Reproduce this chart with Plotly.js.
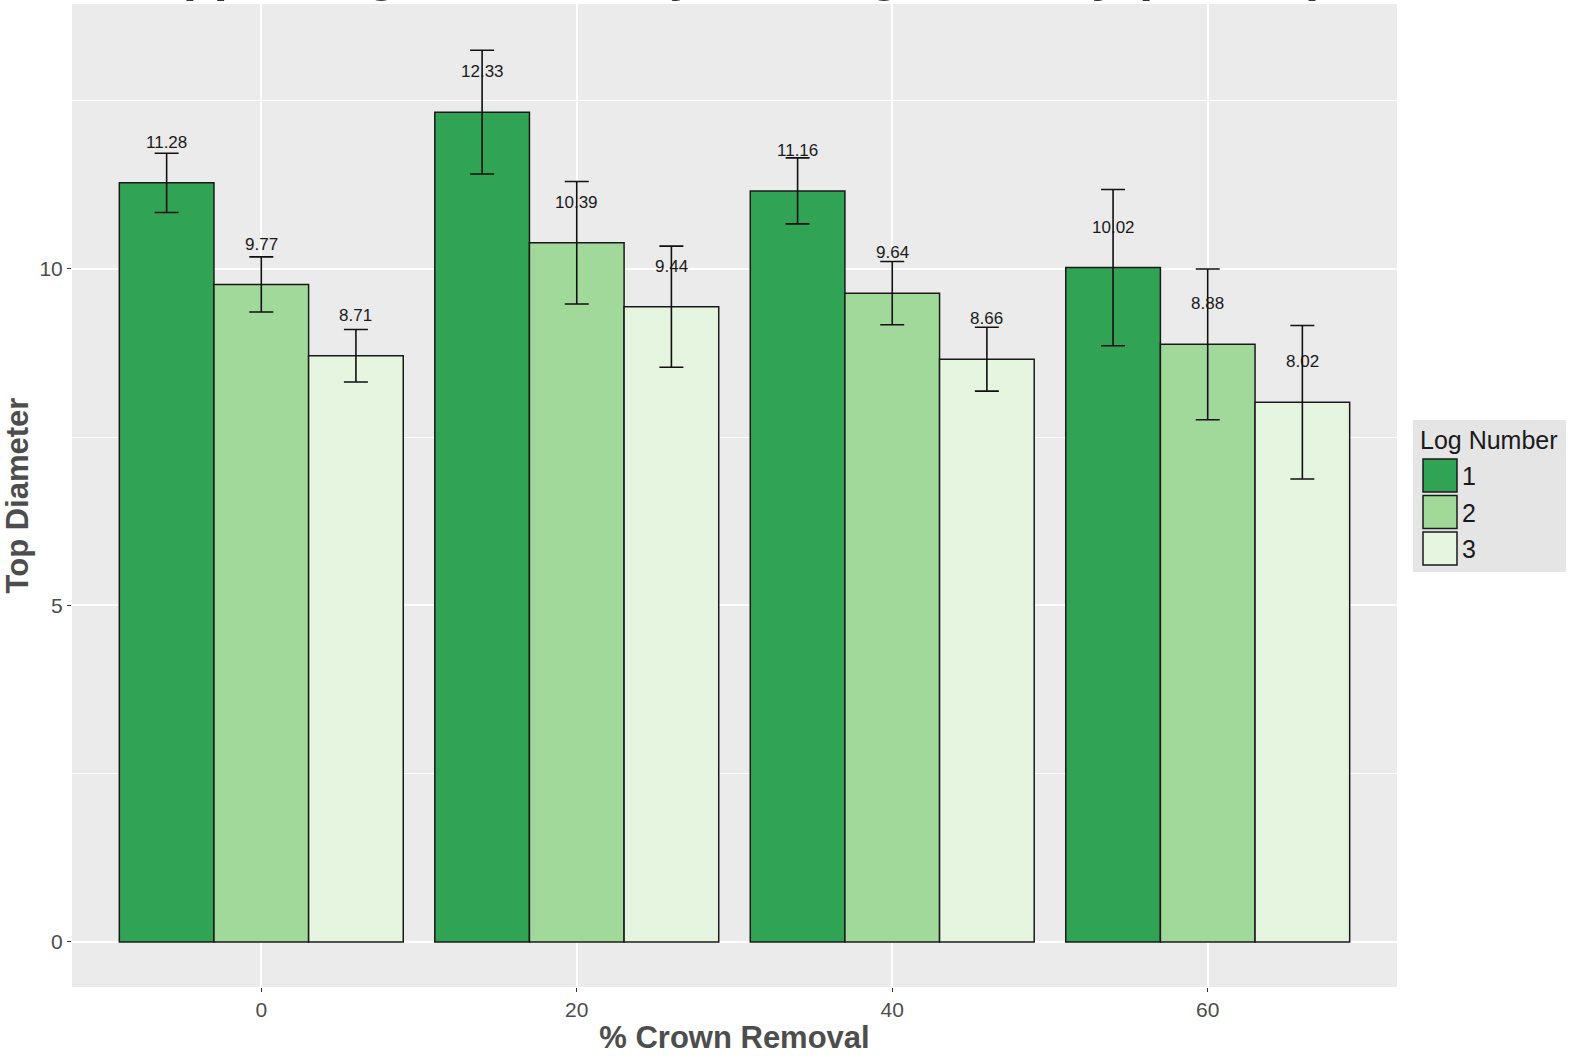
<!DOCTYPE html>
<html>
<head>
<meta charset="utf-8">
<script src="https://cdn.plot.ly/plotly-3.0.1.min.js"></script>
<style>html,body{margin:0;padding:0;background:#fff;}#chart{width:1573px;height:1057px;}</style>
</head>
<body>
<div id="chart"></div>
<script>
// ---- data ----
var chartTitle = "Upper Log Diameter by Pruning Intensity (inches)";
var categories = ["0", "20", "40", "60"];
var logNumbers = ["1", "2", "3"];
var log1Mean = [11.28, 12.33, 11.16, 10.02];
var log2Mean = [9.77, 10.39, 9.64, 8.88];
var log3Mean = [8.71, 9.44, 8.66, 8.02];
var log1Err = [0.44, 0.92, 0.49, 1.16];
var log2Err = [0.41, 0.91, 0.47, 1.12];
var log3Err = [0.39, 0.90, 0.475, 1.14];
var yTickVals = [0, 5, 10];
var xTitle = "% Crown Removal";
var yTitle = "Top Diameter";
var legendTitle = "Log Number";

// ---- style ----
var colors = ["#31A354", "#A1D99B", "#E5F5E0"];
var W = 1573, H = 1057;
var M = {l: 72, r: 176, t: 4, b: 70};
var PW = W - M.l - M.r, PH = H - M.t - M.b;
function px(x) { return (x - M.l) / PW; }
function py(y) { return 1 - (y - M.t) / PH; }
var greyText = "#4D4D4D";
var font = "Liberation Sans, Arial, sans-serif";

var means = [log1Mean, log2Mean, log3Mean];
var errs = [log1Err, log2Err, log3Err];

var traces = means.map(function (m, j) {
  return {
    type: "bar",
    name: logNumbers[j],
    x: categories,
    y: m,
    marker: {color: colors[j], line: {color: "#1a1a1a", width: 1.5}},
    error_y: {type: "data", array: errs[j], visible: true, color: "#111", thickness: 1.6, width: 12},
    hoverinfo: "x+y+name"
  };
});

var annotations = [];
var offsets = [-0.3, 0, 0.3];
means.forEach(function (m, j) {
  m.forEach(function (v, i) {
    annotations.push({
      x: i + offsets[j], y: v + 0.6, xref: "x", yref: "y",
      text: v.toFixed(2), showarrow: false,
      font: {family: font, size: 17, color: "#1a1a1a"},
      xanchor: "center", yanchor: "middle"
    });
  });
});

// title (mostly above the canvas, as in the reference)
annotations.push({
  x: px(736), y: py(3), xref: "paper", yref: "paper",
  text: "<b>" + chartTitle + "</b>", showarrow: false,
  font: {family: font, size: 50, color: "#333333"},
  xanchor: "center", yanchor: "bottom", borderpad: 0
});

// custom legend
var shapes = [{
  type: "rect", xref: "paper", yref: "paper",
  x0: px(1413), x1: px(1566), y0: py(420), y1: py(572),
  fillcolor: "#E5E5E5", line: {width: 0}, layer: "below"
}];
annotations.push({
  x: px(1418), y: py(440), xref: "paper", yref: "paper",
  text: legendTitle, showarrow: false,
  font: {family: font, size: 25, color: "#1a1a1a"},
  xanchor: "left", yanchor: "middle"
});
logNumbers.forEach(function (n, j) {
  var top = 459 + j * 36.5;
  shapes.push({
    type: "rect", xref: "paper", yref: "paper",
    x0: px(1423), x1: px(1457), y0: py(top), y1: py(top + 33),
    fillcolor: colors[j], line: {color: "#1a1a1a", width: 1.5}
  });
  annotations.push({
    x: px(1460), y: py(top + 17), xref: "paper", yref: "paper",
    text: n, showarrow: false,
    font: {family: font, size: 25, color: "#1a1a1a"},
    xanchor: "left", yanchor: "middle"
  });
});

var layout = {
  width: W, height: H,
  margin: M,
  paper_bgcolor: "#ffffff",
  plot_bgcolor: "#EBEBEB",
  barmode: "group",
  bargap: 0.1,
  bargroupgap: 0,
  showlegend: false,
  font: {family: font},
  xaxis: {
    type: "category",
    categoryorder: "array", categoryarray: categories,
    range: [-0.6, 3.6],
    showgrid: true, gridcolor: "#ffffff", gridwidth: 2,
    zeroline: false, showline: false,
    ticks: "outside", ticklen: 4, tickcolor: "#333333", tickwidth: 1,
    tickfont: {family: font, size: 21, color: greyText},
    title: {text: "<b>" + xTitle + "</b>", font: {family: font, size: 31, color: greyText}, standoff: 6},
    automargin: false, fixedrange: true
  },
  yaxis: {
    range: [-0.669, 13.937],
    tickvals: yTickVals, ticktext: yTickVals.map(String),
    showgrid: true, gridcolor: "#ffffff", gridwidth: 2,
    minor: {tick0: 0, dtick: 2.5, showgrid: true, gridcolor: "#ffffff", gridwidth: 1, ticks: ""},
    zeroline: false, showline: false,
    ticks: "outside", ticklen: 4, tickcolor: "#333333", tickwidth: 1,
    tickfont: {family: font, size: 21, color: greyText},
    title: {text: "<b>" + yTitle + "</b>", font: {family: font, size: 31, color: greyText}, standoff: 4},
    automargin: false, fixedrange: true
  },
  annotations: annotations,
  shapes: shapes
};

Plotly.newPlot("chart", traces, layout, {displayModeBar: false, staticPlot: true});
</script>
</body>
</html>
